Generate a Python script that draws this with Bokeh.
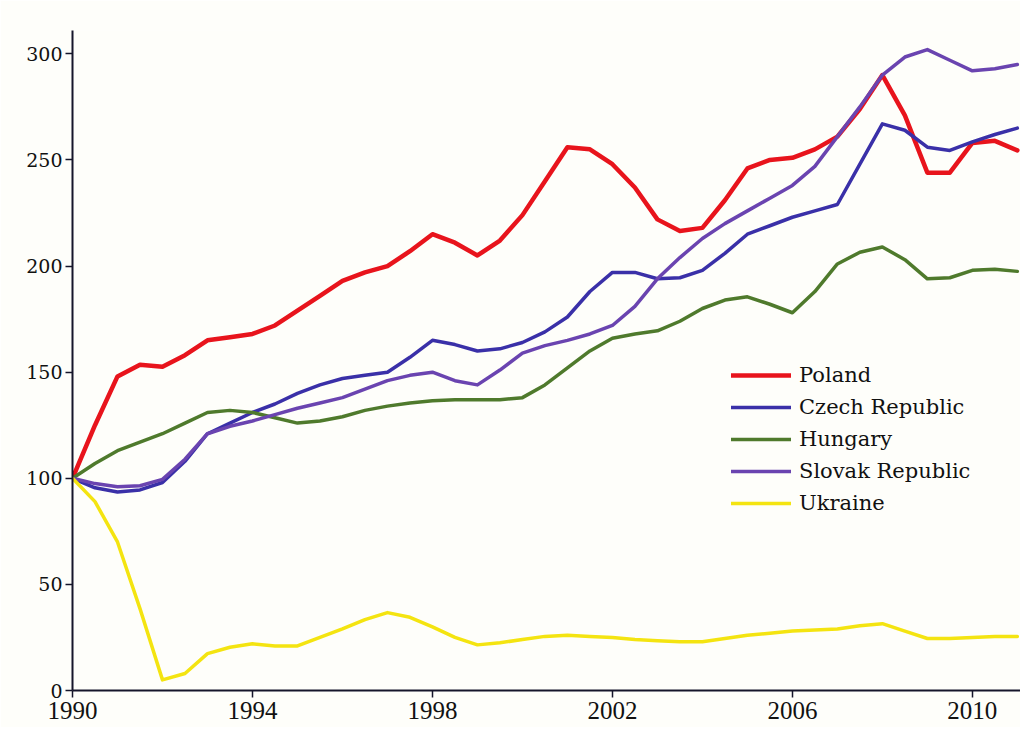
from bokeh.plotting import figure
from bokeh.models import Range1d, FixedTicker, Legend, LegendItem
from bokeh.embed import file_html
from bokeh.resources import INLINE

years = [1990.0, 1990.5, 1991.0, 1991.5, 1992.0, 1992.5, 1993.0, 1993.5, 1994.0, 1994.5,
         1995.0, 1995.5, 1996.0, 1996.5, 1997.0, 1997.5, 1998.0, 1998.5, 1999.0, 1999.5,
         2000.0, 2000.5, 2001.0, 2001.5, 2002.0, 2002.5, 2003.0, 2003.5, 2004.0, 2004.5,
         2005.0, 2005.5, 2006.0, 2006.5, 2007.0, 2007.5, 2008.0, 2008.5, 2009.0, 2009.5,
         2010.0, 2010.5, 2011.0]
poland = [100, 125, 148, 153.5, 152.6, 158, 165, 166.5, 168, 172,
          179, 186, 193, 197, 200, 207, 215, 211, 205, 212,
          224, 240, 256, 255, 248, 237, 222, 216.5, 218, 231,
          246, 250, 251, 255, 261, 274, 290, 271, 244, 244,
          258, 259, 254.5]
czech = [100, 95.5, 93.5, 94.5, 98, 108, 121, 126, 131, 135,
         140, 144, 147, 148.5, 150, 157, 165, 163, 160, 161,
         164, 169, 176, 188, 197, 197, 194, 194.5, 198, 206,
         215, 219, 223, 226, 229, 248, 267, 264, 256, 254.5,
         258.5, 262, 265]
hungary = [100, 107, 113, 117, 121, 126, 131, 132, 131, 128.5,
           126, 127, 129, 132, 134, 135.5, 136.5, 137, 137, 137,
           138, 144, 152, 160, 166, 168, 169.5, 174, 180, 184,
           185.5, 182, 178, 188, 201, 206.5, 209, 203, 194, 194.5,
           198, 198.5, 197.5]
slovak = [100, 97.5, 96, 96.5, 99.5, 109, 121, 124.5, 127, 130,
          133, 135.5, 138, 142, 146, 148.5, 150, 146, 144, 151,
          159, 162.5, 165, 168, 172, 181, 194, 204, 213, 220,
          226, 232, 238, 247, 261, 275, 290, 298.5, 302, 297,
          292, 293, 295]
ukraine = [100, 89, 70, 38.6, 5, 8, 17.4, 20.4, 22, 21,
           21, 25, 29, 33.4, 36.7, 34.5, 30, 25, 21.5, 22.5,
           24, 25.5, 26, 25.5, 25, 24, 23.5, 23, 23, 24.5,
           26, 27, 28, 28.5, 29, 30.5, 31.5, 28, 24.5, 24.5,
           25, 25.5, 25.5]

series_names = ["Poland", "Czech Republic", "Hungary", "Slovak Republic", "Ukraine"]
series_values = [poland, czech, hungary, slovak, ukraine]
series_colors = ["#e8141c", "#3a30a8", "#4f7a2c", "#6a44b0", "#f4e410"]
series_widths = [4.5, 3.5, 3.5, 3.5, 3.5]

x_ticks = [1990, 1994, 1998, 2002, 2006, 2010]
y_ticks = [0, 50, 100, 150, 200, 250, 300]

p = figure(width=1020, height=727, output_backend="svg", toolbar_location=None,
           x_range=Range1d(1990, 2011.07), y_range=Range1d(0, 311),
           min_border_left=72, min_border_right=0, min_border_top=30, min_border_bottom=37)
p.background_fill_color = "#fefefa"
p.border_fill_color = "#fefefa"
p.outline_line_color = None
p.xgrid.grid_line_color = None
p.ygrid.grid_line_color = None

items = []
for name, vals, col, w in zip(series_names, series_values, series_colors, series_widths):
    r = p.line(years, vals, line_color=col, line_width=w, line_join="round", line_cap="round")
    items.append(LegendItem(label=name, renderers=[r]))

p.xaxis.ticker = FixedTicker(ticks=x_ticks)
p.yaxis.ticker = FixedTicker(ticks=y_ticks)
for ax in (p.xaxis[0], p.yaxis[0]):
    ax.axis_line_color = "#15152a"
    ax.axis_line_width = 2
    ax.major_tick_line_color = "#15152a"
    ax.major_tick_line_width = 1.5
    ax.major_tick_in = 0
    ax.major_tick_out = 7
    ax.minor_tick_line_color = None
    ax.major_label_text_color = "#111111"
p.yaxis.major_label_text_font = "DejaVu Serif"
p.yaxis.major_label_text_font_size = "19px"
p.yaxis.major_label_standoff = 3
p.xaxis.major_label_text_font = "Liberation Serif"
p.xaxis.major_label_text_font_size = "25px"
p.xaxis.major_label_standoff = 4

legend = Legend(items=items, location=(659, 175), glyph_width=60, glyph_height=24,
                label_height=24, spacing=8, padding=0, margin=0, label_standoff=8,
                label_text_font="DejaVu Serif", label_text_font_size="21px",
                label_text_color="#111111", background_fill_alpha=0, border_line_color=None)
p.add_layout(legend)

open("out.html", "w").write(file_html(p, INLINE))
